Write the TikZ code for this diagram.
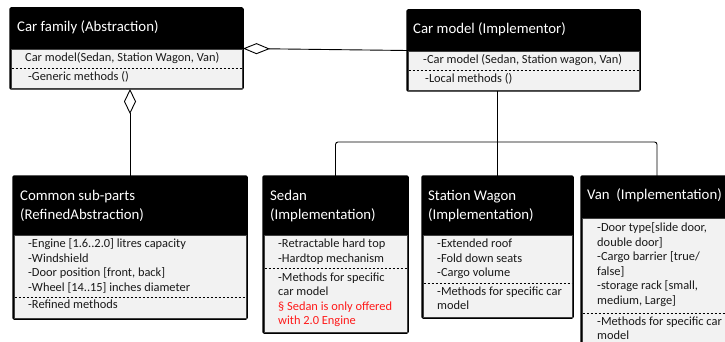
\documentclass[tikz,border=0pt]{standalone}
\usepackage{fontspec}
\setmainfont{Carlito}
\usetikzlibrary{arrows.meta}
\definecolor{bodygray}{HTML}{F2F2F2}
\definecolor{notered}{HTML}{FF1A1A}
\newcommand\hdfont{\fontsize{14.8}{19}\selectfont}
\newcommand\bdfont{\fontsize{12.4}{14.5}\selectfont}
\newcommand\cbox[6]{%
  \node[box, minimum width={#4-#2}, minimum height={#5-#3}] (#1) at (#2,#3) {};
  \path[bodyfill] (#2+1.2,#6) rectangle (#4-1.2,#5-1.2);
}
\tikzset{
  box/.style={draw=black, line width=1.5pt, fill=black, rounded corners=1.2pt, anchor=north west, inner sep=0pt, outer sep=0pt},
  bodyfill/.style={fill=bodygray, draw=black!75, line width=0.5pt},
  head/.style={text=white, font=\hdfont, anchor=west, inner sep=0pt, align=left},
  body/.style={text=black!90, font=\bdfont, anchor=west, inner sep=0pt, align=left},
  sepline/.style={draw=black, line width=0.8pt, dash pattern=on 2.4pt off 1.6pt},
  conn/.style={draw=black, line width=0.9pt},
  agg/.style={conn, {Diamond[length=27pt, width=11pt, fill=white, line width=0.9pt]}-},
  aggv/.style={conn, {Diamond[length=25pt, width=12pt, fill=white, line width=0.9pt]}-},
}
\begin{document}
\begin{tikzpicture}[x=1pt, y=-1pt]
\useasboundingbox (0,0) rectangle (725,342);
\clip (0,0) rectangle (725,342);

% Car family (Abstraction)
\cbox{cf}{10}{8}{243}{89}{49}
\node[head] (cfh) at (17,27.5) {\strut Car family (Abstraction)};
\node[body] (cfa) at (25,59) {\strut Car model(Sedan, Station Wagon, Van)};
\draw[sepline] (11.5,68) -- (241.5,68);
\node[body] (cfm) at (28,78) {\strut -Generic methods ()};

% Car model (Implementor)
\cbox{cm}{407}{10}{640}{91}{51}
\node[head] (cmh) at (413,30) {\strut Car model (Implementor)};
\node[body] (cma) at (423,61) {\strut -Car model (Sedan, Station wagon, Van)};
\draw[sepline] (408.5,70) -- (638.5,70);
\node[body] (cmm) at (425,80) {\strut -Local methods ()};

% Common sub-parts (RefinedAbstraction)
\cbox{cs}{13}{176}{247}{319}{235}
\node[head] (csh) at (20,206.5) {\strut Common sub-parts\\\strut (RefinedAbstraction)};
\node[body] (csa) at (28,266.5) {\strut -Engine [1.6..2.0] litres capacity\\\strut -Windshield\\\strut -Door position [front, back]\\\strut -Wheel [14..15] inches diameter};
\draw[sepline] (14.5,297) -- (245.5,297);
\node[body] (csm) at (28,306) {\strut -Refined methods};

% Sedan (Implementation)
\cbox{sd}{263}{176}{408}{333}{235}
\node[head] (sdh) at (270,206) {\strut Sedan\\\strut (Implementation)};
\node[body] (sda) at (278,252) {\strut -Retractable hard top\\\strut -Hardtop mechanism};
\draw[sepline] (264.5,268) -- (406.5,268);
\node[body] (sdm) at (278,300) {\strut -Methods for specific\\\strut car model\\\strut \textcolor{notered}{§ Sedan is only offered}\\\strut \textcolor{notered}{with 2.0 Engine}};

% Station Wagon (Implementation)
\cbox{sw}{422}{176}{573}{318}{235}
\node[head] (swh) at (428,206) {\strut Station Wagon\\\strut (Implementation)};
\node[body] (swa) at (437,259.5) {\strut -Extended roof\\\strut -Fold down seats\\\strut -Cargo volume};
\draw[sepline] (423.5,283) -- (571.5,283);
\node[body] (swm) at (437,299.5) {\strut -Methods for specific car\\\strut model};

% Van (Implementation)
\cbox{van}{581}{176}{733}{356}{218}
\node[head] (vanh) at (587,196) {\strut Van\ \ (Implementation)};
\node[body] (vana) at (597,265) {\strut -Door type[slide door,\\\strut double door]\\\strut -Cargo barrier [true/\\\strut false]\\\strut -storage rack [small,\\\strut medium, Large]};
\draw[sepline] (582.5,313) -- (731.5,313);
\node[body] (vanm) at (597,329.5) {\strut -Methods for specific car\\\strut model};

% connectors
\draw[agg] (cf.east) -- (cm.west);
\draw[aggv] (cs.north |- cf.south) -- (cs.north);
\coordinate (bus) at (497,142);
\draw[conn] (sw.north |- cm.south) -- (sw.north);
\draw[conn, rounded corners=2.5pt] (sd.north) |- (bus) -| (van.north);
\end{tikzpicture}
\end{document}
